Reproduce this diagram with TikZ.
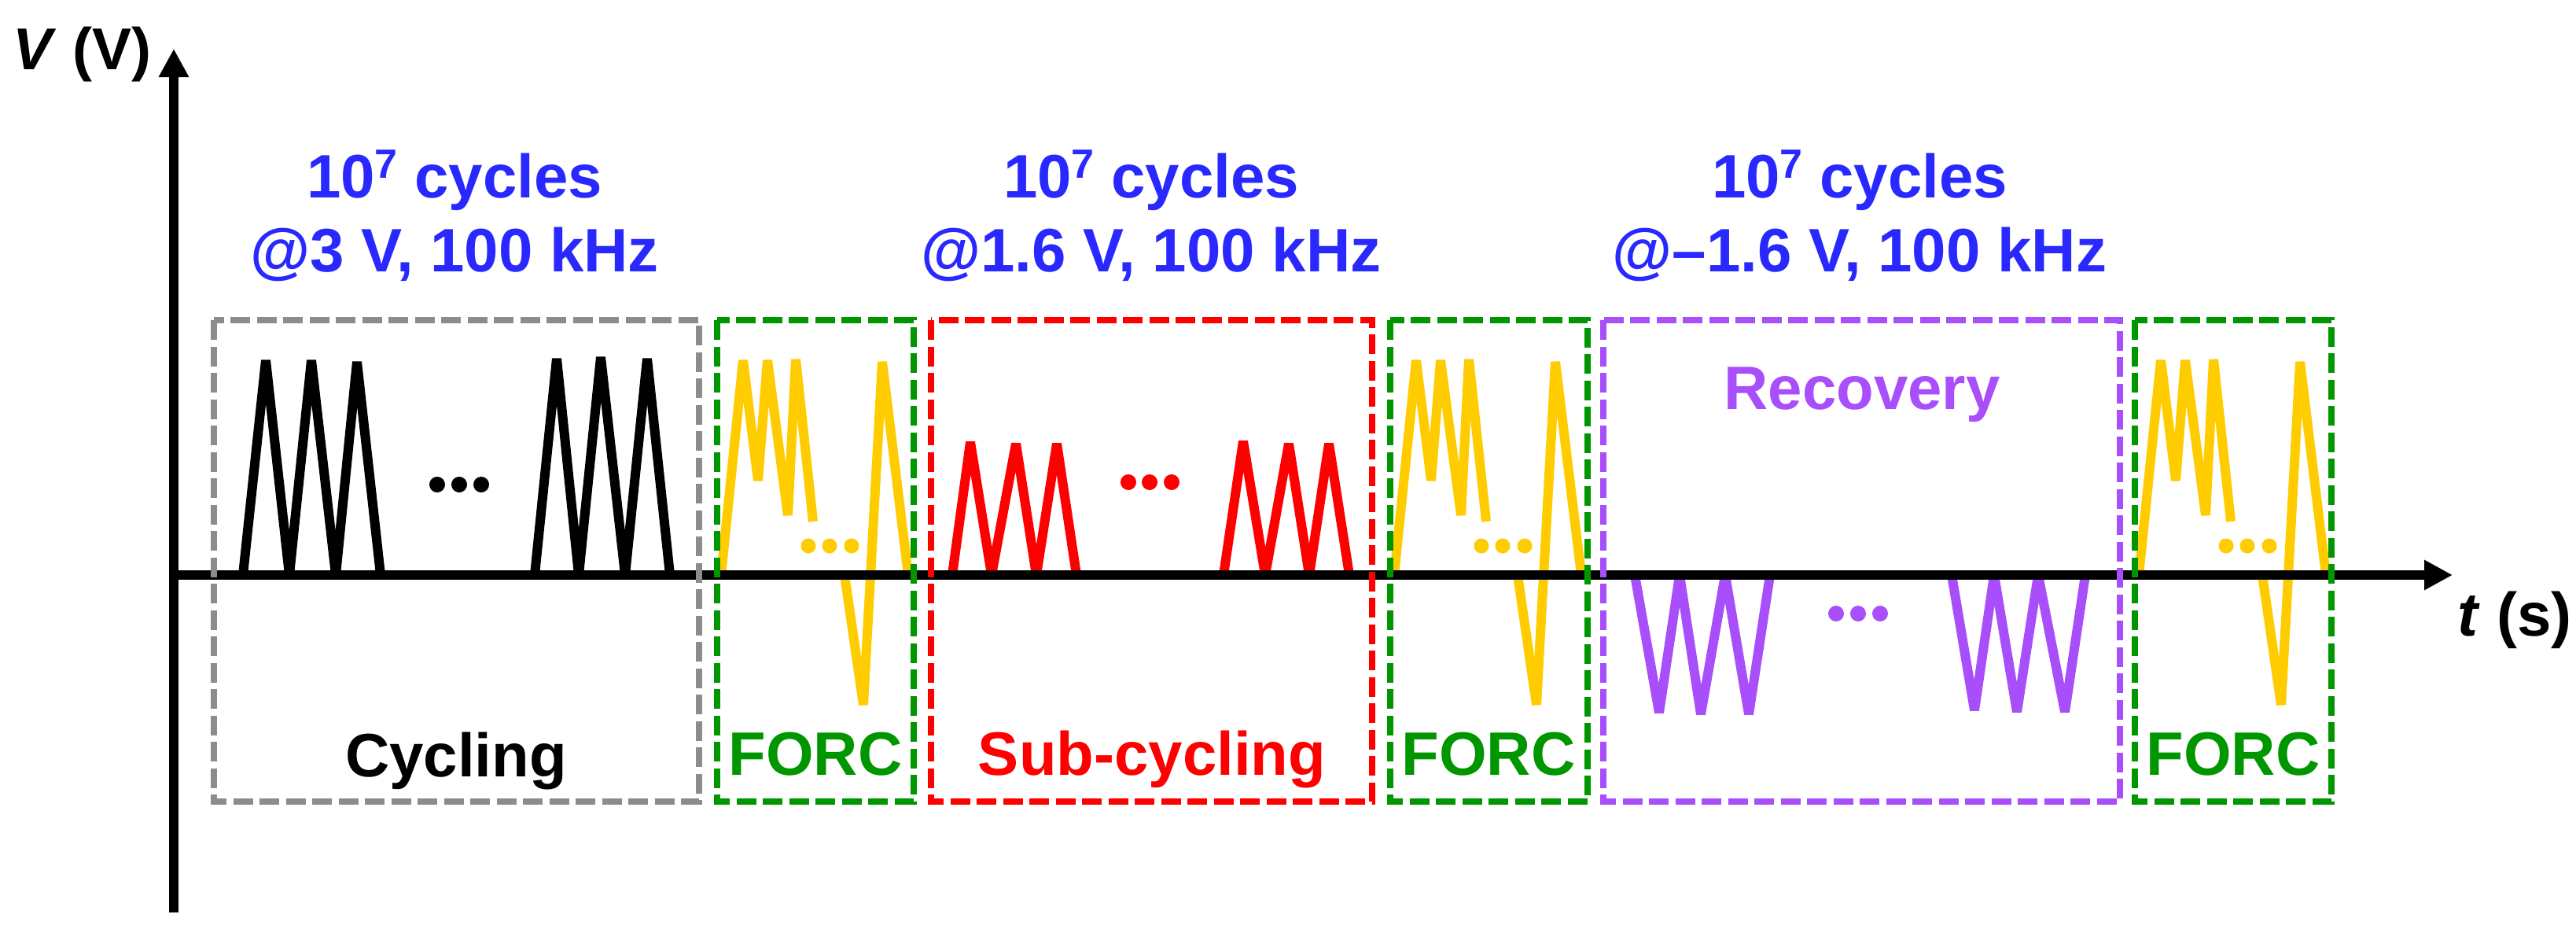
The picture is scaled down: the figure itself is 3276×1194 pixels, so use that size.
\documentclass[tikz,border=0pt]{standalone}
\usepackage{fontspec}
\setmainfont{Liberation Sans}
\usetikzlibrary{arrows.meta}
\definecolor{cblue}{RGB}{40,40,255}
\definecolor{cgray}{RGB}{140,140,140}
\definecolor{cgreen}{RGB}{0,150,0}
\definecolor{cred}{RGB}{255,0,0}
\definecolor{cyellow}{RGB}{255,204,0}
\definecolor{cpurple}{RGB}{168,78,250}
\newcommand{\supseven}{\raisebox{25pt}{\fontsize{52}{52}\selectfont 7}}
\begin{document}
\begin{tikzpicture}[x=1pt,y=-1pt,
  lbl/.style={inner sep=0pt, anchor=base, font=\fontsize{78}{94}\selectfont\bfseries},
  wave/.style={line width=12pt, line join=bevel, line cap=butt},
  box/.style={line width=8pt, dash pattern=on 25pt off 8.5pt},
  axisline/.style={line width=12pt, -{Triangle[length=36pt,width=36pt]}},
  dotr/.style={radius=10pt}
]
\useasboundingbox (0,0) rectangle (3276,1194);

% axis coordinates
\coordinate (O) at (221,731);
\coordinate (Ybot) at (221,1160);
\coordinate (Ytip) at (221,62);
\coordinate (Xtip) at (3119,731);

% ---------- waveforms ----------
% cycling (black)
\draw[wave,black] (309,731) -- (338,458) -- (368,731) -- (396,458) -- (427,731) -- (454,460) -- (484,731);
\draw[wave,black] (680,731) -- (708,456) -- (736,731) -- (764,454) -- (795,731) -- (823,456) -- (852,731);
\fill[black] (556,616) circle[dotr] (584,616) circle[dotr] (612,616) circle[dotr];

% sub-cycling (red)
\draw[wave,cred] (1211,731) -- (1234,562) -- (1261,731) -- (1292,564) -- (1318,731) -- (1344,564) -- (1369,731);
\draw[wave,cred] (1556,731) -- (1581,561) -- (1609,731) -- (1639,564) -- (1665,731) -- (1690,564) -- (1716,731);
\fill[cred] (1435,613) circle[dotr] (1462,613) circle[dotr] (1490,613) circle[dotr];

% recovery (purple)
\draw[wave,cpurple] (2079,731) -- (2110,906) -- (2136,731) -- (2163,908) -- (2194,731) -- (2224,908) -- (2251,731);
\draw[wave,cpurple] (2482,731) -- (2511,903) -- (2536,731) -- (2565,905) -- (2592,731) -- (2626,905) -- (2652,731);
\fill[cpurple] (2335,780) circle[dotr] (2363,780) circle[dotr] (2391,780) circle[dotr];

% FORC (yellow)
\foreach \L in {912,1768,2715}{
  \begin{scope}[xshift=\L pt]
    \draw[wave,cyellow] (5,731) -- (33,458) -- (52,611) -- (64,458) -- (90,655) -- (100,457) -- (122,663);
    \draw[wave,cyellow] (162,731) -- (186,896) -- (210,460) -- (243,731);
    \fill[cyellow] (116,694) circle[radius=9.5pt] (143,694) circle[radius=9.5pt] (171,694) circle[radius=9.5pt];
  \end{scope}
}

% ---------- axes ----------
\draw[axisline] (Ybot) -- (Ytip);
\draw[axisline] (O) -- (Xtip);

% ---------- boxes ----------
\draw[box,cgray]   (272,407) rectangle (889,1019);
\draw[box,cgreen]  (912,407) rectangle (1162,1019);
\draw[box,cred]    (1184,407) rectangle (1745,1019);
\draw[box,cgreen]  (1768,407) rectangle (2019,1019);
\draw[box,cpurple] (2039,407) rectangle (2696,1019);
\draw[box,cgreen]  (2715,407) rectangle (2965,1019);

% ---------- labels ----------
\node[lbl, anchor=base west, font=\fontsize{75}{90}\selectfont\bfseries] (ylab) at (16,88) {\textit{V} (V)};
\node[lbl, anchor=base west] (xlab) at (3125,808) {\textit{t} (s)};

\node[lbl, text=cblue] (c1a) at (578,251) {10\supseven{} cycles};
\node[lbl, text=cblue] (c1b) at (578,345) {@3 V, 100 kHz};
\node[lbl, text=cblue] (c2a) at (1464,251) {10\supseven{} cycles};
\node[lbl, text=cblue] (c2b) at (1464,345) {@1.6 V, 100 kHz};
\node[lbl, text=cblue] (c3a) at (2365,251) {10\supseven{} cycles};
\node[lbl, text=cblue] (c3b) at (2365,345) {@\textendash1.6 V, 100 kHz};

\node[lbl, text=black]   (cyc)  at (580,987) {Cycling};
\node[lbl, text=cgreen]  (f1)   at (1037,985) {FORC};
\node[lbl, text=cred]    (sub)  at (1465,985) {Sub-cycling};
\node[lbl, text=cgreen]  (f2)   at (1893,985) {FORC};
\node[lbl, text=cpurple] (rec)  at (2368,520) {Recovery};
\node[lbl, text=cgreen]  (f3)   at (2840,985) {FORC};
\end{tikzpicture}
\end{document}
